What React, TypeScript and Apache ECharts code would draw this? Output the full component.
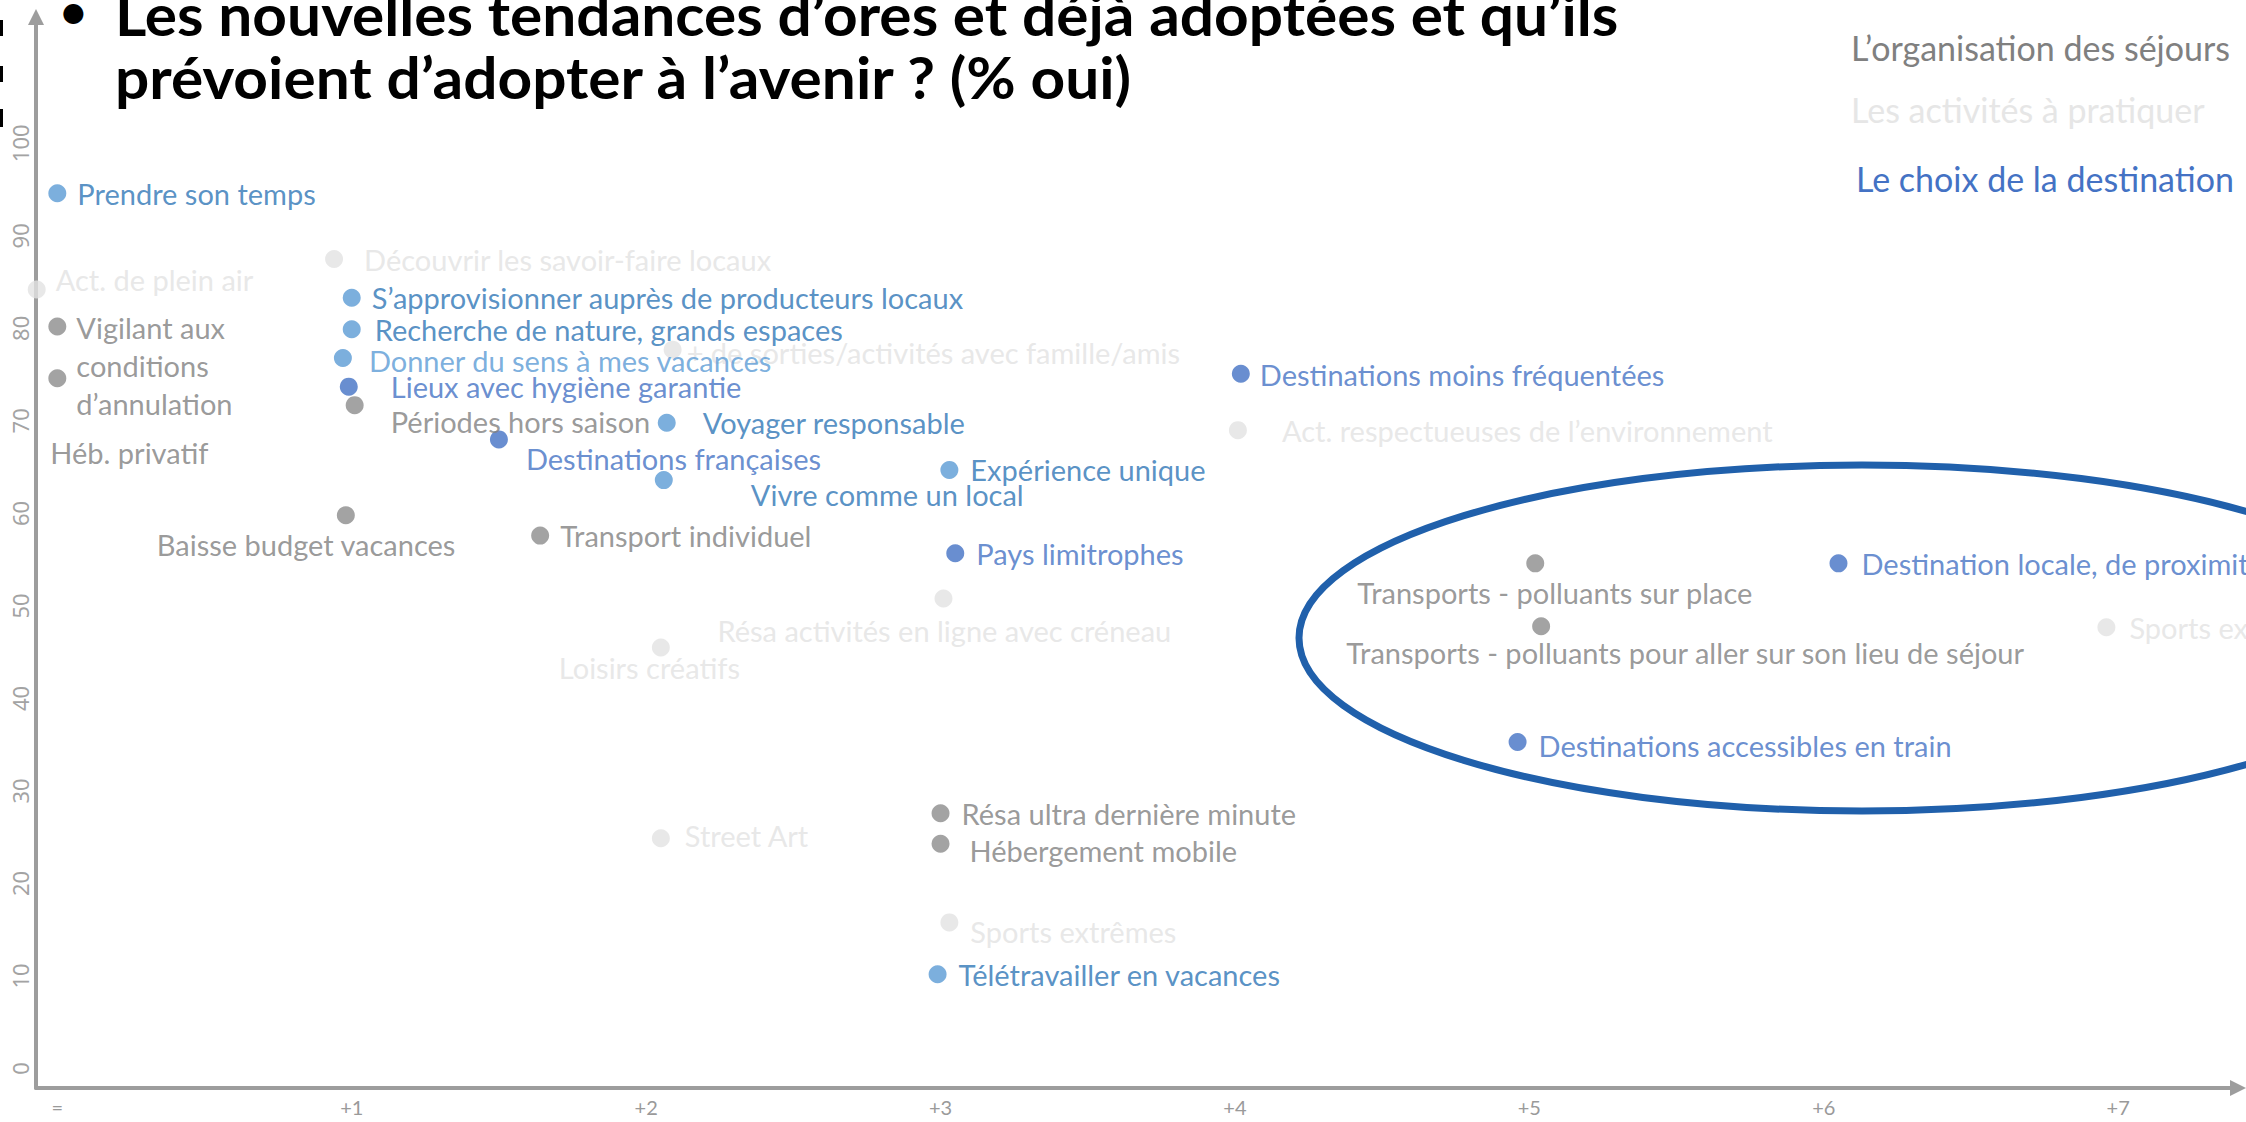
import React, { useEffect, useRef } from "react";
import * as echarts from "echarts";

// ---------- Axis ticks ----------
const X_TICKS = [0, 1, 2, 3, 4, 5, 6, 7];
const X_TICK_LABELS = ["=", "+1", "+2", "+3", "+4", "+5", "+6", "+7"];
const Y_TICKS = [0, 10, 20, 30, 40, 50, 60, 70, 80, 90, 100];

// ---------- Texts ----------
const TITLE_LINE_1 = "Les nouvelles tendances d’ores et déjà adoptées et qu’ils";
const TITLE_LINE_2 = "prévoient d’adopter à l’avenir ? (% oui)";
const LEGEND_ORGANISATION = "L’organisation des séjours";
const LEGEND_ACTIVITES = "Les activités à pratiquer";
const LEGEND_DESTINATION = "Le choix de la destination";

// ---------- Data: état d'esprit / pratiques (bleu clair) ----------
const espritNames = [
  "Prendre son temps",
  "S’approvisionner auprès de producteurs locaux",
  "Recherche de nature, grands espaces",
  "Donner du sens à mes vacances",
  "Voyager responsable",
  "Vivre comme un local",
  "Expérience unique",
  "Télétravailler en vacances",
];
const espritX = [0, 1.0, 1.0, 0.97, 2.07, 2.06, 3.03, 2.99];
const espritY = [94.6, 83.3, 79.9, 76.8, 69.8, 63.6, 64.7, 10.2];

// ---------- Data: Le choix de la destination (bleu foncé) ----------
const destinationNames = [
  "Lieux avec hygiène garantie",
  "Destinations françaises",
  "Destinations moins fréquentées",
  "Pays limitrophes",
  "Destination locale, de proximité",
  "Destinations accessibles en train",
];
const destinationX = [0.99, 1.5, 4.02, 3.05, 6.05, 4.96];
const destinationY = [73.7, 68.0, 75.1, 55.7, 54.6, 35.3];

// ---------- Data: L'organisation des séjours (gris) ----------
const organisationNames = [
  "Vigilant aux conditions d’annulation",
  "Héb. privatif",
  "Périodes hors saison",
  "Baisse budget vacances",
  "Transport individuel",
  "Transports - polluants sur place",
  "Transports - polluants pour aller sur son lieu de séjour",
  "Résa ultra dernière minute",
  "Hébergement mobile",
];
const organisationX = [0, 0, 1.01, 0.98, 1.64, 5.02, 5.04, 3.0, 3.0];
const organisationY = [80.2, 74.6, 71.7, 59.8, 57.6, 54.6, 47.8, 27.6, 24.3];

// ---------- Data: Les activités à pratiquer (gris clair) ----------
const activitesNames = [
  "Act. de plein air",
  "Découvrir les savoir-faire locaux",
  "+ de sorties/activités avec famille/amis",
  "Act. respectueuses de l’environnement",
  "Résa activités en ligne avec créneau",
  "Loisirs créatifs",
  "Street Art",
  "Sports extrêmes",
  "Sports extérieurs",
];
const activitesX = [-0.07, 0.94, 2.09, 4.01, 3.01, 2.05, 2.05, 3.03, 6.96];
const activitesY = [84.2, 87.5, 77.7, 69.0, 50.8, 45.5, 24.9, 15.8, 47.7];

// ---------- Label layout (style only): offset of text start from dot centre ----------
const LABEL_OFFSET: Record<string, [number, number]> = {
  "Prendre son temps": [20, 0],
  "S’approvisionner auprès de producteurs locaux": [20, 0],
  "Recherche de nature, grands espaces": [23, 0],
  "Donner du sens à mes vacances": [26, 3],
  "Voyager responsable": [36, 0],
  "Vivre comme un local": [87, 14],
  "Expérience unique": [21, 0],
  "Télétravailler en vacances": [21, 0],
  "Lieux avec hygiène garantie": [42, 0],
  "Destinations françaises": [27, 19],
  "Destinations moins fréquentées": [19, 1],
  "Pays limitrophes": [21, 0],
  "Destination locale, de proximité": [23, 0],
  "Destinations accessibles en train": [21, 4],
  "Vigilant aux conditions d’annulation": [19, 39],
  "Héb. privatif": [-7, 74],
  "Périodes hors saison": [36, 16],
  "Baisse budget vacances": [-189, 29],
  "Transport individuel": [20, 0],
  "Transports - polluants sur place": [-178, 29],
  "Transports - polluants pour aller sur son lieu de séjour": [-195, 26],
  "Résa ultra dernière minute": [21, 0],
  "Hébergement mobile": [29, 7],
  "Act. de plein air": [19, -10],
  "Découvrir les savoir-faire locaux": [30, 1],
  "+ de sorties/activités avec famille/amis": [14, 3],
  "Act. respectueuses de l’environnement": [44, 0],
  "Résa activités en ligne avec créneau": [-226, 32],
  "Loisirs créatifs": [-102, 20],
  "Street Art": [24, -3],
  "Sports extrêmes": [21, 9],
  "Sports extérieurs": [23, 0],
};
const LABEL_TEXT: Record<string, string> = {
  "Vigilant aux conditions d’annulation": "Vigilant aux\nconditions\nd’annulation",
};
const LABEL_COLOR: Record<string, string> = {
  "Donner du sens à mes vacances": "#5b9bd5",
};

const W = 2246;
const H = 1122;
const GRID = { left: 36, right: 8, top: 17, bottom: 34 };
const X_MIN = -0.0724;
const X_MAX = 7.407;
const Y_MIN = -2.1;
const Y_MAX = 113.65;
const LABEL_FONT = "Lato, 'Noto Sans', sans-serif";

function makeSeries(
  name: string,
  names: string[],
  xs: number[],
  ys: number[],
  dotColor: string,
  textColor: string
) {
  return {
    type: "scatter",
    name,
    symbol: "circle",
    symbolSize: 18,
    itemStyle: { color: dotColor },
    emphasis: { disabled: true },
    label: {
      show: true,
      position: ["50%", "50%"],
      align: "left",
      verticalAlign: "middle",
      fontFamily: LABEL_FONT,
      fontSize: 29,
      lineHeight: 38,
      color: textColor,
      formatter: (p: any) => LABEL_TEXT[p.name] ?? p.name,
    },
    data: names.map((n, i) => ({
      name: n,
      value: [xs[i], ys[i]],
      label: {
        offset: LABEL_OFFSET[n] ?? [20, 0],
        color: LABEL_COLOR[n] ?? textColor,
      },
    })),
  };
}

const titleStyle = (text: string) => ({
  text,
  fill: "#000",
  fontSize: 57,
  fontWeight: "bold",
  fontFamily: "Lato, sans-serif",
  textAlign: "left",
  textVerticalAlign: "middle",
});

const legendStyle = (text: string, fill: string) => ({
  text,
  fill,
  fontSize: 34,
  fontFamily: LABEL_FONT,
  textAlign: "left",
  textVerticalAlign: "middle",
});

export default function App() {
  const ref = useRef<HTMLDivElement>(null);

  useEffect(() => {
    document.body.style.margin = "0";
    if (!ref.current) return;
    const chart = echarts.init(ref.current, undefined, { renderer: "svg" });

    const axisColor = "#9d9d9d";

    chart.setOption({
      animation: false,
      backgroundColor: "#ffffff",
      grid: { ...GRID, containLabel: false },
      xAxis: {
        type: "value",
        min: X_MIN,
        max: X_MAX,
        splitLine: { show: false },
        axisTick: { show: false },
        axisLine: {
          show: true,
          onZero: false,
          symbol: ["none", "triangle"],
          symbolSize: [16, 16],
          lineStyle: { color: axisColor, width: 4 },
        },
        axisLabel: {
          customValues: X_TICKS,
          formatter: (v: number) => X_TICK_LABELS[X_TICKS.indexOf(Math.round(v))] ?? "",
          color: "#9a9a9a",
          fontFamily: "'Liberation Sans Narrow', Lato, sans-serif",
          fontSize: 20,
          lineHeight: 20,
          margin: 9,
        },
      },
      yAxis: {
        type: "value",
        min: Y_MIN,
        max: Y_MAX,
        splitLine: { show: false },
        axisTick: { show: false },
        axisLine: {
          show: true,
          onZero: false,
          symbol: ["none", "triangle"],
          symbolSize: [16, 16],
          lineStyle: { color: axisColor, width: 4 },
        },
        axisLabel: {
          customValues: Y_TICKS,
          rotate: 90,
          color: "#a3a3a3",
          fontFamily: "'Noto Sans', sans-serif",
          fontSize: 22,
          margin: 5,
        },
      },
      series: [
        makeSeries("Les activités à pratiquer", activitesNames, activitesX, activitesY, "#e2e2e2", "#e2e2e2"),
        makeSeries("L’organisation des séjours", organisationNames, organisationX, organisationY, "#8c8c8c", "#808080"),
        makeSeries("État d’esprit", espritNames, espritX, espritY, "#5b9bd5", "#2e75b6"),
        makeSeries("Le choix de la destination", destinationNames, destinationX, destinationY, "#4472c4", "#4472c4"),
      ],
      graphic: [
        { type: "rect", shape: { x: 0, y: 20, width: 3, height: 16 }, style: { fill: "#000" } },
        { type: "rect", shape: { x: 0, y: 66, width: 3, height: 16 }, style: { fill: "#000" } },
        { type: "rect", shape: { x: 0, y: 109, width: 3, height: 18 }, style: { fill: "#000" } },
        {
          type: "text",
          x: 60,
          y: 10,
          style: { ...titleStyle("•"), fontSize: 46 },
        },
        { type: "text", x: 115, y: 14, scaleX: 1.06, style: titleStyle(TITLE_LINE_1) },
        { type: "text", x: 115, y: 77, scaleX: 1.06, style: titleStyle(TITLE_LINE_2) },
        { type: "text", x: 1851, y: 47, style: legendStyle(LEGEND_ORGANISATION, "#808080") },
        { type: "text", x: 1851, y: 109, style: legendStyle(LEGEND_ACTIVITES, "#e6e6e6") },
        { type: "text", x: 1856, y: 178, style: legendStyle(LEGEND_DESTINATION, "#4472c4") },
        {
          type: "ellipse",
          shape: { cx: 1862, cy: 638, rx: 563, ry: 173 },
          style: { fill: "transparent", stroke: "#2060ab", lineWidth: 7 },
          z: 5,
        },
      ],
    });

    return () => chart.dispose();
  }, []);

  return (
    <div
      ref={ref}
      style={{ position: "fixed", left: 0, top: 0, width: W, height: H, background: "#fff" }}
    />
  );
}
